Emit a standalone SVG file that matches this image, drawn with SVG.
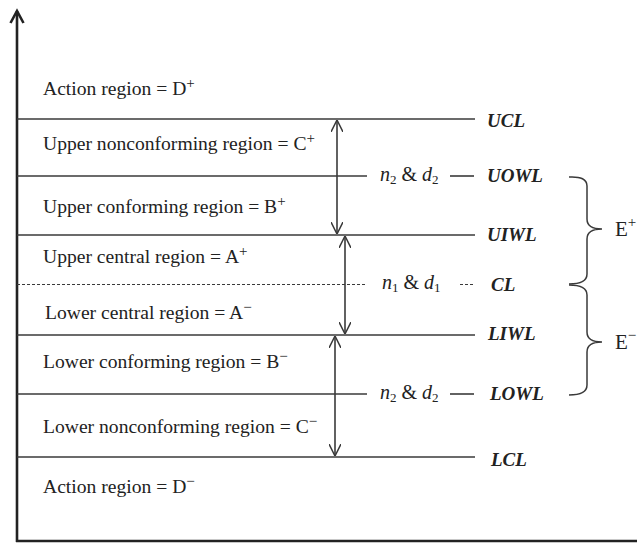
<svg xmlns="http://www.w3.org/2000/svg" width="637" height="547" viewBox="0 0 637 547">
<style>
.ln{stroke:#3a3a3a;stroke-width:1.6;fill:none}
.ax{stroke:#222;stroke-width:2.6;fill:none}
.dash{stroke:#3a3a3a;stroke-width:1.2;fill:none;stroke-dasharray:3 2}
.lbl{font-family:"Liberation Serif","Times New Roman",serif;font-size:19.6px;fill:#222}
.lim{font-family:"Liberation Serif","Times New Roman",serif;font-size:19px;font-style:italic;font-weight:bold;fill:#222}
.nd{font-family:"Liberation Serif","Times New Roman",serif;font-size:20px;fill:#222}
.it{font-style:italic}
.br{stroke:#3a3a3a;stroke-width:1.5;fill:none}
.e{font-family:"Liberation Serif","Times New Roman",serif;font-size:21px;fill:#222}
</style>
<defs>
<marker id="ah" viewBox="0 0 12 12" refX="12" refY="6" markerWidth="12" markerHeight="12" markerUnits="userSpaceOnUse" orient="auto-start-reverse">
<path d="M0,0 L12,6 L0,12" fill="none" stroke="#3a3a3a" stroke-width="1.5"/>
</marker>
</defs>
<rect width="637" height="547" fill="#fff"/>
<g id="axes">
<line class="ax" x1="17" y1="11" x2="17" y2="542"/>
<line class="ax" x1="16" y1="541" x2="637" y2="541"/>
<path class="ax" d="M10.5,23 L17,11 L23.5,23" stroke-width="2.2"/>
</g>
<g id="limit-lines">
<line class="ln" x1="17" y1="119" x2="475" y2="119"/>
<line class="ln" x1="17" y1="176" x2="367" y2="176"/>
<line class="ln" x1="450" y1="176" x2="474" y2="176"/>
<line class="ln" x1="17" y1="235" x2="475" y2="235"/>
<line class="dash" x1="17" y1="284.5" x2="367" y2="284.5"/>
<line class="dash" x1="460" y1="284.5" x2="475" y2="284.5"/>
<line class="ln" x1="17" y1="335" x2="475" y2="335"/>
<line class="ln" x1="17" y1="394" x2="367" y2="394"/>
<line class="ln" x1="450" y1="394" x2="474" y2="394"/>
<line class="ln" x1="17" y1="457" x2="475" y2="457"/>
</g>
<g id="region-labels">
<text class="lbl" x="43" y="95">Action region = D<tspan dy="-7" font-size="15">+</tspan></text>
<text class="lbl" x="43" y="150">Upper nonconforming region = C<tspan dy="-7" font-size="15">+</tspan></text>
<text class="lbl" x="43" y="213">Upper conforming region = B<tspan dy="-7" font-size="15">+</tspan></text>
<text class="lbl" x="43" y="263">Upper central region = A<tspan dy="-7" font-size="15">+</tspan></text>
<text class="lbl" x="45" y="319">Lower central region = A<tspan dy="-7" font-size="15">−</tspan></text>
<text class="lbl" x="43" y="368">Lower conforming region = B<tspan dy="-7" font-size="15">−</tspan></text>
<text class="lbl" x="43" y="433">Lower nonconforming region = C<tspan dy="-7" font-size="15">−</tspan></text>
<text class="lbl" x="43" y="493">Action region = D<tspan dy="-7" font-size="15">−</tspan></text>
</g>
<g id="limit-labels">
<text class="lim" x="487" y="127">UCL</text>
<text class="lim" x="487" y="182">UOWL</text>
<text class="lim" x="487" y="241">UIWL</text>
<text class="lim" x="491" y="291">CL</text>
<text class="lim" x="488" y="340">LIWL</text>
<text class="lim" x="490" y="400">LOWL</text>
<text class="lim" x="491" y="466">LCL</text>
</g>
<g id="sample-labels">
<text class="nd" x="380" y="181"><tspan class="it">n</tspan><tspan dy="3" font-size="13">2</tspan><tspan dy="-3"> &amp; </tspan><tspan class="it">d</tspan><tspan dy="3" font-size="13">2</tspan></text>
<text class="nd" x="382" y="289"><tspan class="it">n</tspan><tspan dy="3" font-size="13">1</tspan><tspan dy="-3"> &amp; </tspan><tspan class="it">d</tspan><tspan dy="3" font-size="13">1</tspan></text>
<text class="nd" x="380" y="399"><tspan class="it">n</tspan><tspan dy="3" font-size="13">2</tspan><tspan dy="-3"> &amp; </tspan><tspan class="it">d</tspan><tspan dy="3" font-size="13">2</tspan></text>
</g>
<g id="connectors">
<line class="ln" x1="337" y1="120" x2="337" y2="234" marker-start="url(#ah)" marker-end="url(#ah)"/>
<line class="ln" x1="345" y1="236" x2="345" y2="334" marker-start="url(#ah)" marker-end="url(#ah)"/>
<line class="ln" x1="335" y1="336" x2="335" y2="456" marker-start="url(#ah)" marker-end="url(#ah)"/>
</g>
<g id="brace-E-plus">
<path class="br" d="M569,177 Q587,176 587,186 L587,219 Q587,229 602,229 Q587,229 587,239 L587,274 Q587,284 569,284"/>
<text class="e" x="615" y="236">E<tspan dy="-9" font-size="15">+</tspan></text>
</g>
<g id="brace-E-minus">
<path class="br" d="M569,285 Q587,285 587,295 L587,332 Q587,342 602,342 Q587,342 587,352 L587,385 Q587,395 569,395"/>
<text class="e" x="615" y="349">E<tspan dy="-9" font-size="15">−</tspan></text>
</g>
</svg>
